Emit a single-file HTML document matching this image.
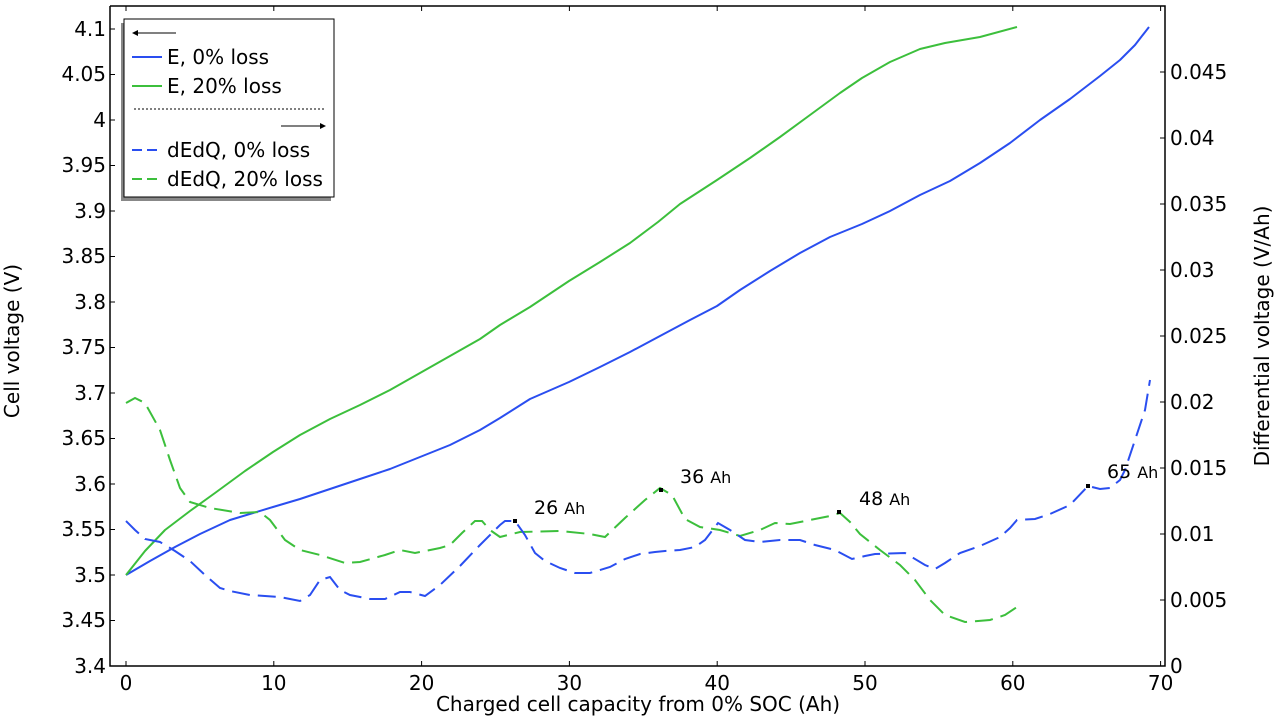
<!DOCTYPE html>
<html><head><meta charset="utf-8"><style>
html,body{margin:0;padding:0;background:#fff;}
svg{display:block;font-family:"DejaVu Sans","Liberation Sans",sans-serif;}
</style></head><body>
<svg width="1280" height="720" viewBox="0 0 1280 720" xmlns="http://www.w3.org/2000/svg">
<rect width="1280" height="720" fill="#fff"/>
<path d="M110 6 V666 H1165 V6 H110" fill="none" stroke="#000" stroke-width="1.5"/>
<g stroke="#000" stroke-width="1">
<path d="M126 666v-5M273.8 666v-5M421.6 666v-5M569.4 666v-5M717.2 666v-5M865 666v-5M1012.8 666v-5M1160.6 666v-5"/>
<path d="M126 6v5M273.8 6v5M421.6 6v5M569.4 6v5M717.2 6v5M865 6v5M1012.8 6v5M1160.6 6v5"/>
<path d="M110 666h5M110 620.5h5M110 575h5M110 529.5h5M110 484h5M110 438.5h5M110 393h5M110 347.5h5M110 302h5M110 256.5h5M110 211h5M110 165.5h5M110 120h5M110 74.5h5M110 29h5"/>
<path d="M1165 666h-5M1165 600h-5M1165 534h-5M1165 468h-5M1165 402h-5M1165 336h-5M1165 270h-5M1165 204h-5M1165 138h-5M1165 72h-5"/>
</g>
<g font-size="20" fill="#000" text-anchor="middle">
<text x="126" y="690">0</text><text x="273.8" y="690">10</text><text x="421.6" y="690">20</text><text x="569.4" y="690">30</text><text x="717.2" y="690">40</text><text x="865" y="690">50</text><text x="1012.8" y="690">60</text><text x="1160.6" y="690">70</text>
</g>
<g font-size="20" fill="#000" text-anchor="end">
<text x="106" y="673">3.4</text><text x="106" y="627">3.45</text><text x="106" y="582">3.5</text><text x="106" y="536">3.55</text><text x="106" y="491">3.6</text><text x="106" y="445">3.65</text><text x="106" y="400">3.7</text><text x="106" y="354">3.75</text><text x="106" y="309">3.8</text><text x="106" y="263">3.85</text><text x="106" y="218">3.9</text><text x="106" y="172">3.95</text><text x="106" y="127">4</text><text x="106" y="81">4.05</text><text x="106" y="36">4.1</text>
</g>
<g font-size="20" fill="#000">
<text x="1170" y="673">0</text><text x="1170" y="607">0.005</text><text x="1170" y="541">0.01</text><text x="1170" y="475">0.015</text><text x="1170" y="409">0.02</text><text x="1170" y="343">0.025</text><text x="1170" y="277">0.03</text><text x="1170" y="211">0.035</text><text x="1170" y="145">0.04</text><text x="1170" y="79">0.045</text>
</g>
<text x="638" y="711" font-size="20" text-anchor="middle">Charged cell capacity from 0% SOC (Ah)</text>
<text transform="translate(19,341) rotate(-90)" font-size="20" text-anchor="middle">Cell voltage (V)</text>
<text transform="translate(1269,336) rotate(-90)" font-size="20" text-anchor="middle">Differential voltage (V/Ah)</text>

<polyline fill="none" stroke="#2a4ef0" stroke-width="2" stroke-linejoin="round" points="126,575 150,561 175,547 200,534 230,520 273,507 300,499 330,489 360,479 390,469 420,457 450,445 480,430 500,418 530,399 569,382 600,367 630,352 660,336 690,320 717,306 740,290 770,271 800,253 830,237 862,224 890,211 920,195 950,181 980,163 1010,143 1040,120 1070,99 1100,76 1120,60 1135,45 1149,27"/>
<polyline fill="none" stroke="#3cbf3c" stroke-width="2" stroke-linejoin="round" points="126,575 145,551 165,530 190,511 215,493 245,471 273,452 300,435 330,419 360,405 390,390 420,373 450,356 480,339 500,325 530,307 569,281 600,262 630,243 658,222 680,204 717,180 750,158 780,137 810,115 840,93 862,78 890,62 920,49 945,43 980,37 1017,27"/>
<polyline fill="none" stroke="#3cbf3c" stroke-width="2" stroke-dasharray="18,8" points="126,403 135,398 145,403 160,430 170,460 180,488 190,502 210,508 240,513 260,512 270,520 285,540 300,550 320,555 345,563 360,562 385,555 400,550 415,553 440,548 450,545 462,533 475,521 482,521 490,530 500,537 520,532 560,531 590,534 605,537 625,518 645,500 660,488 672,495 685,519 700,527 720,530 740,536 760,530 775,523 790,524 830,516 840,513 850,522 860,534 880,550 900,565 915,580 930,600 945,615 965,622 990,620 1005,615 1017,607"/>
<polyline fill="none" stroke="#2a4ef0" stroke-width="2" stroke-dasharray="18,8" points="126,521 135,530 145,539 160,542 175,551 190,561 205,575 220,588 230,591 250,595 280,597 300,601 310,595 320,580 330,577 340,590 350,595 370,599 385,599 400,592 410,592 425,596 440,585 460,566 480,545 500,525 505,521 515,521 525,535 535,553 545,561 560,568 575,573 590,573 610,567 625,559 640,554 655,552 665,551 680,550 695,547 705,540 718,523 730,530 745,540 760,542 780,540 800,540 815,545 835,550 852,559 865,556 875,554 905,553 925,565 935,569 945,563 960,553 980,546 1000,537 1010,528 1017,520 1035,519 1050,514 1070,505 1088,486 1100,489 1110,488 1120,480 1125,470 1135,440 1145,410 1150,380"/>
<g fill="#000">
<rect x="513" y="519" width="4" height="4"/><rect x="659" y="488" width="4" height="4"/><rect x="837" y="510" width="4" height="4"/><rect x="1086" y="484" width="4" height="4"/>
</g>
<g fill="#000" font-size="19">
<text x="534" y="514">26 <tspan font-size="16">Ah</tspan></text>
<text x="680" y="483">36 <tspan font-size="16">Ah</tspan></text>
<text x="859" y="505">48 <tspan font-size="16">Ah</tspan></text>
<text x="1107" y="478">65 <tspan font-size="16">Ah</tspan></text>
</g>
<rect x="121" y="23" width="210" height="178" fill="#888"/>
<rect x="124" y="19" width="210" height="178" fill="#fff" stroke="#000" stroke-width="1"/>
<path d="M134 33H176" stroke="#000" stroke-width="1"/><path d="M132 33l6-3v6z" fill="#000"/>
<path d="M132 57H162" stroke="#2a4ef0" stroke-width="2"/>
<path d="M132 86H162" stroke="#3cbf3c" stroke-width="2"/>
<path d="M134 109H326" stroke="#000" stroke-width="1" stroke-dasharray="2,2"/>
<path d="M281 126H323" stroke="#000" stroke-width="1"/><path d="M326 126l-6-3v6z" fill="#000"/>
<path d="M132 150H162" stroke="#2a4ef0" stroke-width="2" stroke-dasharray="10,5"/>
<path d="M132 179H162" stroke="#3cbf3c" stroke-width="2" stroke-dasharray="10,5"/>
<g font-size="20" fill="#000">
<text x="167" y="64">E, 0% loss</text>
<text x="167" y="93">E, 20% loss</text>
<text x="167" y="157">dEdQ, 0% loss</text>
<text x="167" y="186">dEdQ, 20% loss</text>
</g>
</svg>
</body></html>
